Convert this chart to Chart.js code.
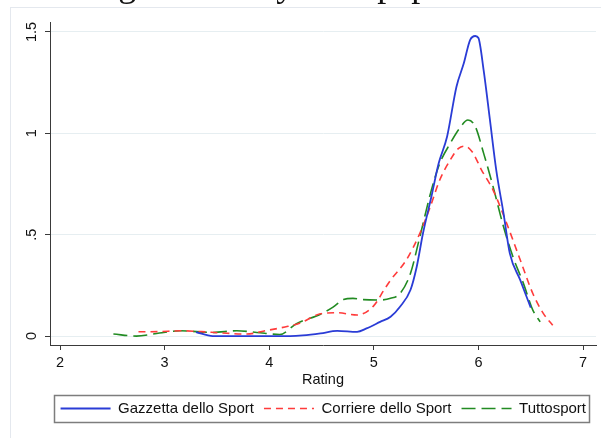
<!DOCTYPE html>
<html>
<head>
<meta charset="utf-8">
<script src="https://cdn.jsdelivr.net/npm/chart.js@4.4.1/dist/chart.umd.min.js"></script>
<style>
  html, body { margin: 0; padding: 0; background: #fff; }
  #wrap { width: 601px; height: 438px; }
</style>
</head>
<body>
<div id="wrap"><canvas id="chart" width="601" height="438"></canvas></div>
<script>
// density of player ratings, one curve per newspaper
const gazzettaX = [3.30, 3.46, 3.60, 3.80, 4.00, 4.20, 4.32, 4.49, 4.65, 4.84, 4.93, 5.06, 5.16, 5.25, 5.35, 5.41, 5.47, 5.55, 5.62, 5.70, 5.79, 5.86, 5.92, 5.97, 6.00, 6.05, 6.11, 6.17, 6.24, 6.30, 6.40, 6.50];
const gazzettaY = [0.020, 0.000, 0.000, 0.000, 0.000, 0.000, 0.003, 0.013, 0.026, 0.021, 0.038, 0.070, 0.095, 0.145, 0.227, 0.342, 0.507, 0.687, 0.852, 0.983, 1.230, 1.345, 1.460, 1.480, 1.470, 1.310, 1.066, 0.820, 0.605, 0.408, 0.276, 0.140];

const corriereX = [2.75, 2.95, 3.15, 3.35, 3.53, 3.78, 3.98, 4.15, 4.29, 4.49, 4.65, 4.84, 5.00, 5.10, 5.16, 5.31, 5.44, 5.54, 5.63, 5.73, 5.81, 5.87, 5.94, 6.03, 6.14, 6.27, 6.40, 6.52, 6.62, 6.71];
const corriereY = [0.021, 0.022, 0.026, 0.022, 0.016, 0.010, 0.028, 0.045, 0.063, 0.110, 0.115, 0.104, 0.150, 0.230, 0.276, 0.375, 0.507, 0.638, 0.770, 0.868, 0.926, 0.937, 0.909, 0.819, 0.720, 0.556, 0.375, 0.210, 0.112, 0.054];

const tuttoX = [2.51, 2.73, 2.95, 3.15, 3.46, 3.69, 3.88, 4.10, 4.26, 4.49, 4.61, 4.71, 4.80, 4.90, 5.06, 5.16, 5.25, 5.35, 5.44, 5.55, 5.63, 5.73, 5.82, 5.90, 5.97, 6.05, 6.14, 6.24, 6.33, 6.43, 6.52, 6.59];
const tuttoY = [0.010, 0.000, 0.015, 0.026, 0.018, 0.026, 0.018, 0.008, 0.061, 0.108, 0.143, 0.180, 0.186, 0.180, 0.178, 0.186, 0.210, 0.309, 0.490, 0.720, 0.852, 0.950, 1.025, 1.066, 1.033, 0.901, 0.737, 0.539, 0.391, 0.260, 0.128, 0.070];

const seriesNames = ['Gazzetta dello Sport', 'Corriere dello Sport', 'Tuttosport'];
const xTicks = [2, 3, 4, 5, 6, 7];
const yTicks = [0, 0.5, 1, 1.5];
const xTitle = 'Rating';
const headline = 'Average marks by newspaper';

const toPoints = (xs, ys) => xs.map((x, i) => ({ x, y: ys[i] }));

const lineStyles = [
  { color: '#2a3cd6', dash: [], width: 1.8 },
  { color: '#ff3b3b', dash: [7, 5], width: 1.6 },
  { color: '#228b22', dash: [14, 6], width: 1.6 }
];
const seriesData = [
  toPoints(gazzettaX, gazzettaY),
  toPoints(corriereX, corriereY),
  toPoints(tuttoX, tuttoY)
];

// white page, faint outer frame, and the heading line sitting mostly above the top edge
const backdrop = {
  id: 'backdrop',
  beforeDraw(chart) {
    const ctx = chart.ctx;
    ctx.save();
    ctx.fillStyle = '#fff';
    ctx.fillRect(0, 0, chart.width, chart.height);
    ctx.strokeStyle = '#e4e8ee';
    ctx.lineWidth = 1;
    ctx.strokeRect(10.5, 7.5, chart.width + 20, chart.height + 20);
    ctx.font = '36px "Liberation Serif", "Times New Roman", serif';
    ctx.fillStyle = '#111';
    ctx.textBaseline = 'alphabetic';
    ctx.fillText(headline, 33, -4.5);
    ctx.restore();
  }
};

// boxed legend, Stata style
const legendFrame = {
  id: 'legendFrame',
  afterDraw(chart) {
    const boxes = chart.legend && chart.legend.legendHitBoxes;
    if (!boxes || !boxes.length) return;
    const first = boxes[0];
    const last = boxes[boxes.length - 1];
    const cy = first.top + first.height / 2;
    const left = first.left - 7;
    const right = last.left + last.width + 3;
    const ctx = chart.ctx;
    ctx.save();
    ctx.strokeStyle = '#7d7d7d';
    ctx.lineWidth = 1.5;
    ctx.setLineDash([]);
    ctx.strokeRect(Math.round(left) + 0.5, Math.round(cy - 13.5) + 0.5, Math.round(right - left), 27);
    ctx.restore();
  }
};

const font = { family: '"Liberation Sans", Arial, sans-serif', size: 14.5 };
const legendFont = { family: '"Liberation Sans", Arial, sans-serif', size: 15 };

new Chart(document.getElementById('chart'), {
  type: 'line',
  data: {
    datasets: seriesData.map((pts, i) => ({
      label: seriesNames[i],
      data: pts,
      borderColor: lineStyles[i].color,
      backgroundColor: lineStyles[i].color,
      borderWidth: lineStyles[i].width,
      borderDash: lineStyles[i].dash,
      pointRadius: 0,
      fill: false,
      cubicInterpolationMode: 'monotone'
    }))
  },
  options: {
    responsive: false,
    animation: false,
    devicePixelRatio: 1,
    layout: { padding: { top: 22, right: 5, bottom: 12, left: 0 } },
    plugins: {
      title: { display: false },
      tooltip: { enabled: false },
      legend: {
        position: 'bottom',
        align: 'end',
        labels: {
          usePointStyle: true,
          pointStyleWidth: 50,
          padding: 10,
          color: '#111',
          font: legendFont,
          generateLabels: chart => chart.data.datasets.map((ds, i) => ({
            text: ds.label,
            strokeStyle: ds.borderColor,
            fillStyle: ds.borderColor,
            lineWidth: ds.borderWidth,
            lineDash: ds.borderDash,
            pointStyle: 'line',
            fontColor: '#111',
            hidden: false,
            datasetIndex: i
          }))
        }
      }
    },
    scales: {
      x: {
        type: 'linear',
        min: 1.904,
        max: 7.124,
        afterBuildTicks: s => { s.ticks = xTicks.map(v => ({ value: v })); },
        afterFit: s => { s.height = 46; },
        grid: { drawOnChartArea: false, drawTicks: true, tickLength: 5, tickColor: '#3a3a3a' },
        border: { color: '#3a3a3a', width: 1 },
        ticks: { color: '#111', font, padding: 4, maxRotation: 0, autoSkip: false },
        title: { display: true, text: xTitle, color: '#111', font, padding: { top: 0, bottom: 2 } }
      },
      y: {
        type: 'linear',
        min: -0.044,
        max: 1.549,
        afterBuildTicks: s => { s.ticks = yTicks.map(v => ({ value: v })); },
        afterFit: s => { s.width = 50; },
        grid: { color: '#e6eef1', lineWidth: 1, drawTicks: true, tickLength: 5, tickColor: '#3a3a3a' },
        border: { color: '#3a3a3a', width: 1 },
        ticks: {
          color: '#111',
          font,
          padding: 3,
          minRotation: 90,
          maxRotation: 90,
          crossAlign: 'center',
          autoSkip: false,
          callback: v => (v === 0 ? '0' : String(v).replace(/^0\./, '.'))
        }
      }
    }
  },
  plugins: [backdrop, legendFrame]
});
</script>
</body>
</html>
